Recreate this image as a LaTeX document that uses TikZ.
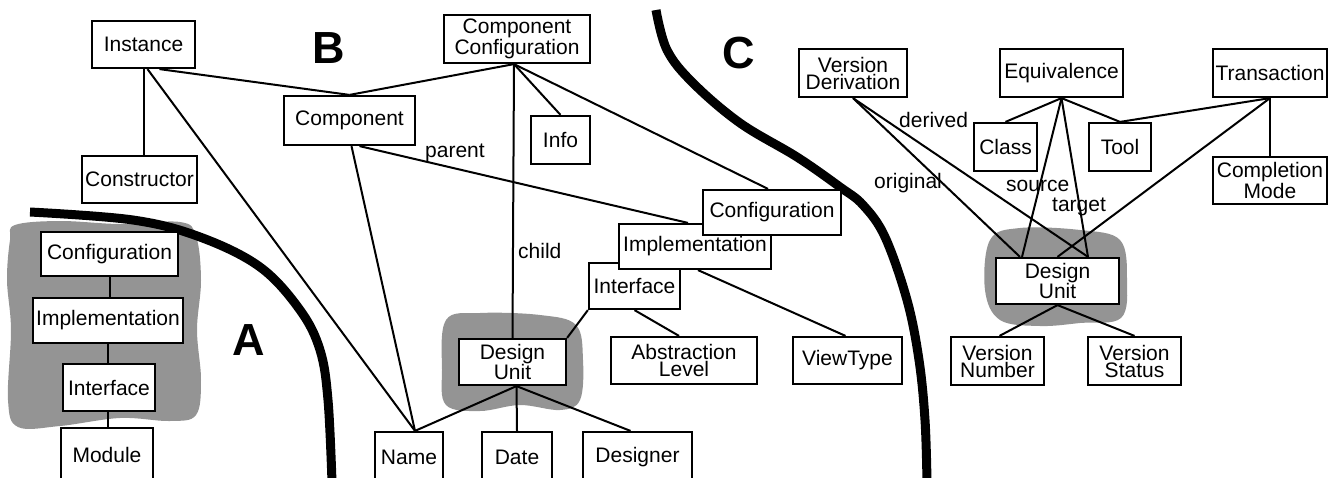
\documentclass[tikz,border=0pt]{standalone}
\usepackage{fontspec}
\setmainfont{Liberation Sans}
\usetikzlibrary{backgrounds}
\begin{document}
\begin{tikzpicture}[x=1pt,y=-1pt,
  box/.style={draw, line width=2.2pt, fill=white, inner sep=0pt, align=center,
    font=\fontsize{21}{17}\selectfont},
  conn/.style={line width=2pt},
  lbl/.style={inner sep=0pt, font=\fontsize{21}{15}\selectfont},
  big/.style={inner sep=0pt, font=\fontsize{45}{45}\selectfont\bfseries},
  blob/.style={fill=black!42, draw=none},
  divider/.style={line width=9pt}]
\useasboundingbox (0,0) rectangle (1331,477);

% ---- region A ----
\node[box, minimum width=137pt, minimum height=44pt] (Acfg) at (109.5,254) {Configuration};
\node[box, minimum width=150pt, minimum height=45pt] (Aimp) at (108,320.5) {Implementation};
\node[box, minimum width=92pt, minimum height=47pt] (Aint) at (109,387.5) {Interface};
\node[box, minimum width=92pt, minimum height=54pt] (Amod) at (107,455) {Module};
\node[big] (labA) at (249,340) {A};

% ---- region B ----
\node[box, minimum width=103pt, minimum height=47pt] (Inst) at (143.5,44.5) {Instance};
\node[box, minimum width=115pt, minimum height=47pt] (Cons) at (139.5,179.5) {Constructor};
\node[box, minimum width=131pt, minimum height=49pt] (Comp) at (349.5,120.5) {Component};
\node[box, minimum width=146pt, minimum height=48pt] (CC) at (517,39) {Component\\Configuration};
\node[box, minimum width=59pt, minimum height=48pt] (Info) at (560.5,140) {Info};
\node[box, minimum width=91pt, minimum height=46pt] (Bint) at (634.5,286) {Interface};
\node[box, minimum width=152pt, minimum height=45pt] (Bimp) at (695,246.5) {Implementation};
\node[box, minimum width=138pt, minimum height=45pt] (Bcfg) at (772,212.5) {Configuration};
\node[box, minimum width=107pt, minimum height=46pt] (DUb) at (512.5,362) {Design\\Unit};
\node[box, minimum width=146pt, minimum height=47pt] (Abs) at (684,360.5) {Abstraction\\Level};
\node[box, minimum width=109pt, minimum height=47pt] (VT) at (847.5,360.5) {ViewType};
\node[box, minimum width=68pt, minimum height=50pt] (Name) at (409,457) {Name};
\node[box, minimum width=70pt, minimum height=50pt] (Date) at (517,457) {Date};
\node[box, minimum width=109pt, minimum height=50pt] (Dsg) at (637.5,457) {Designer};
\node[big] (labB) at (329,48) {B};
\node[lbl, anchor=base west] (lparent) at (425,157) {parent};
\node[lbl, anchor=base west] (lchild) at (518,258) {child};

% ---- region C ----
\node[box, minimum width=108pt, minimum height=48pt] (VD) at (853,73) {Version\\Derivation};
\node[box, minimum width=123pt, minimum height=48pt] (Eq) at (1061.5,73) {Equivalence};
\node[box, minimum width=114pt, minimum height=48pt] (Tr) at (1270,73) {Transaction};
\node[box, minimum width=63pt, minimum height=48pt] (Cls) at (1005.5,147) {Class};
\node[box, minimum width=62pt, minimum height=48pt] (Tool) at (1120,147) {Tool};
\node[box, minimum width=114pt, minimum height=47pt] (CM) at (1270,180.5) {Completion\\Mode};
\node[box, minimum width=123pt, minimum height=46pt] (DUc) at (1057.5,281) {Design\\Unit};
\node[box, minimum width=93pt, minimum height=48pt] (VN) at (997.5,361) {Version\\Number};
\node[box, minimum width=93pt, minimum height=48pt] (VS) at (1134.5,361) {Version\\Status};
\node[big] (labC) at (739,53) {C};
\node[lbl, anchor=base west] (lder) at (899,127) {derived};
\node[lbl, anchor=base west] (lorig) at (874,188) {original};
\node[lbl, anchor=base west] (lsrc) at (1006,191) {source};
\node[lbl, anchor=base west] (ltgt) at (1052,211) {target};

\begin{pgfonlayer}{background}
  % shaded blobs
  \fill[blob] plot[smooth cycle, tension=0.6] coordinates {
    (15,225) (60,221) (120,224) (180,222) (196,236) (201,280) (197,330)
    (201,380) (196,415) (170,421) (120,418) (60,426) (18,427) (8,400)
    (11,330) (7,280) (10,240)};
  \fill[blob] plot[smooth cycle, tension=0.6] coordinates {
    (446,320) (480,313) (540,315) (576,325) (583,360) (580,400) (560,410)
    (520,405) (480,411) (446,405) (442,370)};
  \fill[blob] plot[smooth cycle, tension=0.6] coordinates {
    (990,240) (1020,228) (1080,230) (1120,240) (1127,280) (1121,318)
    (1080,323) (1040,326) (1000,320) (985,290)};

  % dividing curves
  \draw[divider] plot[smooth, tension=0.6] coordinates {
    (30,212) (133,220) (200,237) (260,267) (300,310) (320,350) (328,400) (332,482)};
  \draw[divider] plot[smooth, tension=0.6] coordinates {
    (656,10) (667,50) (693,83) (740,123) (797,157) (840,187) (863,205)
    (885,237) (907,300) (919,360) (925,420) (927,482)};

  % region A connectors
  \draw[conn] (Acfg.south) -- (Acfg.south |- Aimp.north);
  \draw[conn] (Aimp.south) -- (Aimp.south |- Aint.north);
  \draw[conn] ([xshift=-1pt]Aint.south) -- ([xshift=-1pt]Aint.south |- Amod.north);

  % region B connectors
  \draw[conn] (Inst.south) -- (Inst.south |- Cons.north);
  \draw[conn] ([xshift=16pt]Inst.south) -- (Comp.north);
  \draw[conn] ([xshift=4pt]Inst.south) -- ([xshift=6pt]Name.north);
  \draw[conn] ([xshift=-3pt]CC.south) -- (Comp.north);
  \draw[conn] ([xshift=-3pt]CC.south) -- (Info.north);
  \draw[conn] ([xshift=-3pt]CC.south) -- (DUb.north);
  \draw[conn] ([xshift=-3pt]CC.south) -- ([xshift=-4pt]Bcfg.north);
  \draw[conn] ([xshift=10pt]Comp.south) -- ([xshift=-7pt]Bimp.north);
  \draw[conn] ([xshift=2pt]Comp.south) -- ([xshift=6pt]Name.north);
  \draw[conn] ([xshift=3pt]Bimp.south) -- ([xshift=-2pt]VT.north);
  \draw[conn] (Bint.south) -- ([xshift=-5pt]Abs.north);
  \draw[conn] (Bint.south west) -- (DUb.north east);
  \draw[conn] ([xshift=4pt]DUb.south) -- ([xshift=6pt]Name.north);
  \draw[conn] ([xshift=4pt]DUb.south) -- (Date.north);
  \draw[conn] ([xshift=4pt]DUb.south) -- ([xshift=-7pt]Dsg.north);

  % region C connectors
  \draw[conn] (VD.south) -- ([xshift=-37.5pt]DUc.north);
  \draw[conn] (VD.south) -- ([xshift=30.5pt]DUc.north);
  \draw[conn] (Eq.south) -- (Cls.north);
  \draw[conn] (Eq.south) -- (Tool.north);
  \draw[conn] (Eq.south) -- ([xshift=-35.5pt]DUc.north);
  \draw[conn] (Eq.south) -- ([xshift=30.5pt]DUc.north);
  \draw[conn] (Tr.south) -- (Tool.north);
  \draw[conn] (Tr.south) -- (DUc.north);
  \draw[conn] (Tr.south) -- (CM.north);
  \draw[conn] (DUc.south) -- ([xshift=2pt]VN.north);
  \draw[conn] (DUc.south) -- (VS.north);
\end{pgfonlayer}
\end{tikzpicture}
\end{document}
